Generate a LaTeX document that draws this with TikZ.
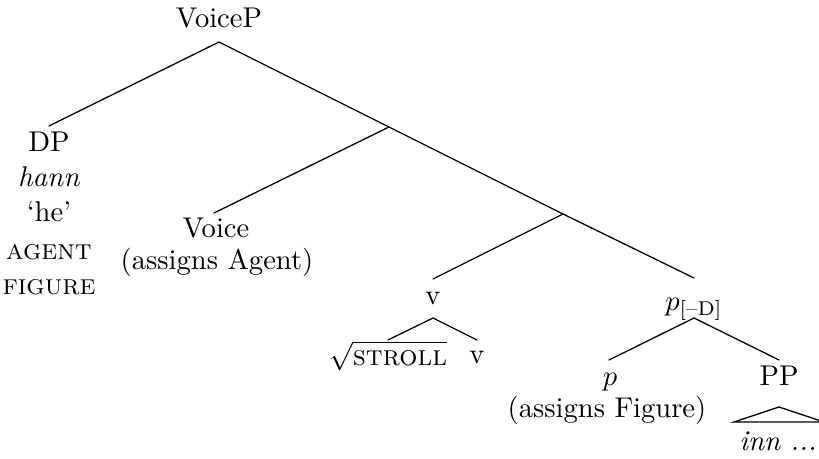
\documentclass[tikz,border=0pt]{standalone}
\begin{document}
\begin{tikzpicture}[x=0.35pt,y=-0.35pt,
  lbl/.style={anchor=base,inner sep=0pt,font=\fontsize{10}{12}\selectfont},
  branch/.style={line width=0.45pt,line cap=round}]
\clip (0,0) rectangle (819,459);
% labels
\node[lbl] (voiceP) at (219,28) {VoiceP};
\node[lbl] (dp) at (49,152) {DP};
\node[lbl] (hann) at (49,187) {\textit{hann}};
\node[lbl] (he) at (49,222) {`he'};
\node[lbl] (agent) at (49,260) {\textsc{agent}};
\node[lbl] (figure) at (49,295) {\textsc{figure}};
\node[lbl] (voice) at (216,238) {Voice};
\node[lbl] (assA) at (217,270) {(assigns Agent)};
\node[lbl] (vbar) at (433,305) {v};
\node[lbl] (root) at (388,365) {$\sqrt{\mbox{\textsc{stroll}}}$};
\node[lbl] (vhead) at (477,363) {v};
\node[lbl] (pD) at (694,310) {$p_{\mbox{\scriptsize[--D]}}$};
\node[lbl] (p) at (610,385) {$p$};
\node[lbl] (assF) at (607,417) {(assigns Figure)};
\node[lbl] (pp) at (779,385) {PP};
\node[lbl] (inn) at (778,450) {\textit{inn ...}};
% attachment points
\coordinate (voicePb) at (219,42);
\coordinate (dpt) at (49,126);
\coordinate (n1) at (389,127);
\coordinate (voicet) at (214,213);
\coordinate (n2) at (563,214);
\coordinate (vbart) at (433,279);
\coordinate (pDt) at (694,278);
\coordinate (vbarb) at (433,318);
\coordinate (roott) at (388,340);
\coordinate (vheadt) at (477,340);
\coordinate (pDb) at (694,318);
\coordinate (pt) at (609,360);
\coordinate (ppt) at (779,360);
\coordinate (triA) at (779,407);
\coordinate (triL) at (734,422);
\coordinate (triR) at (824,422);
% branches
\draw[branch] (dpt) -- (voicePb) -- (n1);
\draw[branch] (voicet) -- (n1) -- (n2);
\draw[branch] (vbart) -- (n2) -- (pDt);
\draw[branch] (roott) -- (vbarb) -- (vheadt);
\draw[branch] (pt) -- (pDb) -- (ppt);
\draw[branch,line join=miter] (triL) -- (triA) -- (triR) -- cycle;
\end{tikzpicture}
\end{document}
